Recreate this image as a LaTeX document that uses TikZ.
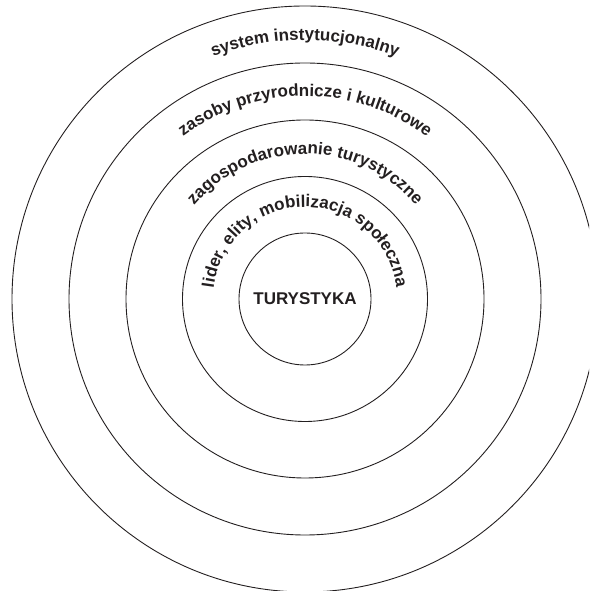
\documentclass[tikz,border=0pt]{standalone}
\usepackage{fontspec}
\setmainfont{Liberation Sans}
\usetikzlibrary{decorations.text}
\definecolor{ink}{HTML}{231F20}
\begin{document}
\fontsize{17}{20}\selectfont\bfseries
\begin{tikzpicture}[x=1pt,y=1pt,
  ring/.style={circle, draw=ink, line width=0.9pt, inner sep=0pt, minimum size=#1},
  arclabel/.style={decorate, decoration={text along path, text align=center,
      text color=ink, text={#1}}}
]
\useasboundingbox (0,0) rectangle (589,591);
\clip (0,0) rectangle (589,591);
\coordinate (O) at (305,292);

% concentric rings, innermost first
\node[ring=132] (core) at (O) {};
\node[ring=245] (lead) at (O) {};
\node[ring=358] (infra) at (O) {};
\node[ring=472] (res) at (O) {};
\node[ring=586] (inst) at (O) {};

% centre label
\node[text=ink, inner sep=0pt] (tur) at (O) {TURYSTYKA};

% curved ring labels
\path[arclabel={lider, elity, mobilizacja społeczna}]
  ([shift={(180:92)}]O) arc[start angle=180, end angle=0, radius=92];
\path[arclabel={zagospodarowanie turystyczne}]
  ([shift={(180:145)}]O) arc[start angle=180, end angle=0, radius=145];
\path[arclabel={zasoby przyrodnicze i kulturowe}]
  ([shift={(180:203)}]O) arc[start angle=180, end angle=0, radius=203];
\path[arclabel={system instytucjonalny}]
  ([shift={(180:259)}]O) arc[start angle=180, end angle=0, radius=259];
\end{tikzpicture}
\end{document}
